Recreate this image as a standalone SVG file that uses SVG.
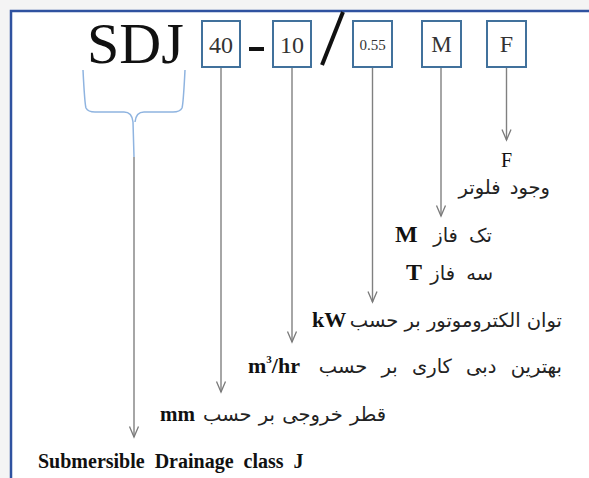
<svg xmlns="http://www.w3.org/2000/svg" width="589" height="478" viewBox="0 0 589 478">
<style>
.box{fill:#fff;stroke:#41719c;stroke-width:2}
.bt{font-family:"Liberation Serif",serif;fill:#333;text-anchor:middle}
.ln{stroke:#808080;stroke-width:1.4;fill:none}
.lat{font-family:"Liberation Serif",serif;fill:#111}
.fa{font-family:"DejaVu Sans",sans-serif;fill:#222;text-anchor:end;font-size:19.5px}
</style>
<defs>
<marker id="ah" markerUnits="userSpaceOnUse" markerWidth="14" markerHeight="14" refX="12" refY="7" orient="auto" viewBox="0 0 14 14">
<path d="M1.5,2.5 L12,7 L1.5,11.5" fill="none" stroke="#7a7a7a" stroke-width="1.3"/>
</marker>
</defs>
<rect x="0" y="0" width="589" height="478" fill="#f4f4f4"/>
<rect x="11" y="11" width="578" height="467" fill="#fff"/>
<path d="M11,478 V11 H589" fill="none" stroke="#2f52a0" stroke-width="2.5"/>

<g id="sdj">
<text x="87" y="63" class="lat" font-size="58">SDJ</text>
<path d="M83,70 C84,90 85,105 86,108 Q88,112 95,112 L124,112 Q132,112 133,122 L134,157" fill="none" stroke="#8fb4e0" stroke-width="1.5"/>
<path d="M185,70 C184,90 183,105 182,108 Q180,112 173,112 L144,112 Q136,112 135,122" fill="none" stroke="#8fb4e0" stroke-width="1.5"/>
</g>
<g id="b40"><rect class="box" x="202" y="21" width="38" height="46"/><text class="bt" x="221" y="53" font-size="24">40</text></g>
<g id="dash"><rect x="249" y="47" width="15" height="4" fill="#111"/></g>
<g id="b10"><rect class="box" x="273" y="21" width="38" height="46"/><text class="bt" x="292" y="53" font-size="24">10</text></g>
<g id="slash"><line x1="343" y1="12" x2="322" y2="65" stroke="#111" stroke-width="4"/></g>
<g id="b055"><rect class="box" x="353" y="21" width="39" height="46"/><text class="bt" x="372.5" y="50" font-size="15">0.55</text></g>
<g id="bM"><rect class="box" x="422" y="21" width="39" height="46"/><text class="bt" x="441.5" y="52" font-size="23">M</text></g>
<g id="bF"><rect class="box" x="487" y="21" width="39" height="46"/><text class="bt" x="506.5" y="52" font-size="24">F</text></g>

<g id="connectors">
<line class="ln" x1="134" y1="157" x2="134" y2="437" marker-end="url(#ah)"/>
<line class="ln" x1="221" y1="68" x2="221" y2="392" marker-end="url(#ah)"/>
<line class="ln" x1="292" y1="68" x2="292" y2="342" marker-end="url(#ah)"/>
<line class="ln" x1="372.5" y1="68" x2="372.5" y2="302" marker-end="url(#ah)"/>
<line class="ln" x1="441" y1="68" x2="441" y2="216" marker-end="url(#ah)"/>
<line class="ln" x1="506.5" y1="68" x2="506.5" y2="140" marker-end="url(#ah)"/>
</g>

<g id="lblF">
<text class="lat" x="506.5" y="167" font-size="20" text-anchor="middle" fill="#333">F</text>
<text class="fa" x="550" y="194" word-spacing="3">وجود فلوتر</text>
</g>
<g id="lblM">
<text class="lat" x="395" y="242" font-size="24" font-weight="bold">M</text>
<text class="fa" x="492" y="242" word-spacing="5">تک فاز</text>
</g>
<g id="lblT">
<text class="lat" x="406" y="280" font-size="24" font-weight="bold">T</text>
<text class="fa" x="493" y="280" word-spacing="5">سه فاز</text>
</g>
<g id="lblkW">
<text class="lat" x="312" y="327" font-size="22" font-weight="bold">kW</text>
<text class="fa" x="562" y="327">توان الکتروموتور بر حسب</text>
</g>
<g id="lblm3">
<text class="lat" x="248" y="373" font-size="22" font-weight="bold">m<tspan dy="-10" font-size="11">3</tspan><tspan dy="10">/hr</tspan></text>
<text class="fa" x="562" y="373" word-spacing="8">بهترین دبی کاری بر حسب</text>
</g>
<g id="lblmm">
<text class="lat" x="160" y="421" font-size="21" font-weight="bold">mm</text>
<text class="fa" x="386" y="421" word-spacing="1">قطر خروجی بر حسب</text>
</g>
<g id="lblSub">
<text class="lat" x="38" y="468" font-size="20" font-weight="bold" word-spacing="5">Submersible Drainage class J</text>
</g>
</svg>
